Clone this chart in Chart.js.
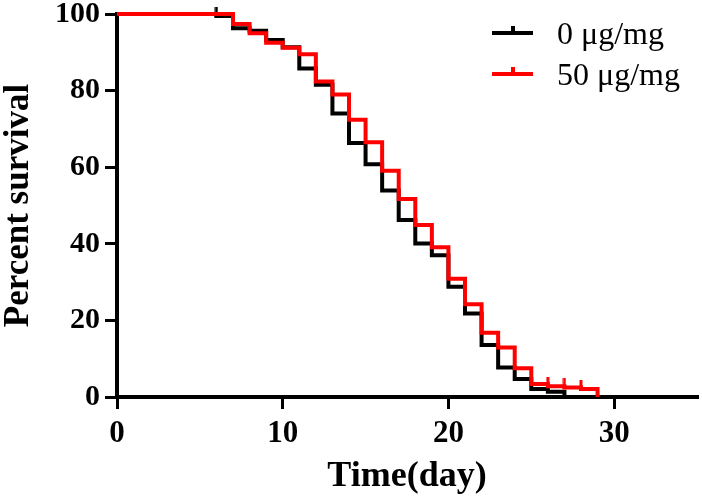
<!DOCTYPE html>
<html>
<head>
<meta charset="utf-8">
<script src="https://cdn.jsdelivr.net/npm/chart.js@4.4.0/dist/chart.umd.min.js"></script>
<style>
  html, body { margin: 0; padding: 0; background: #fff; }
  #wrap { width: 702px; height: 498px; }
</style>
</head>
<body>
<div id="wrap"><canvas id="survivalChart"></canvas></div>
<script>
// Kaplan-Meier steps (day, percent survival)
const days0 = [0, 6, 7, 8, 9, 10, 11, 12, 13, 14, 15, 16, 17, 18, 19, 20, 21, 22, 23, 24, 25, 26, 27];
const surv0 = [100, 99.5, 96.3, 95.6, 93.2, 91.3, 85.8, 81.5, 74, 66.3, 60.8, 53.9, 46.2, 40.1, 37, 28.8, 21.8, 13.6, 7.7, 4.7, 2.1, 1.4, 0];
const censor0 = [6];

const days50 = [0, 7, 8, 9, 10, 11, 12, 13, 14, 15, 16, 17, 18, 19, 20, 21, 22, 23, 24, 25, 26, 27, 28, 29];
const surv50 = [100, 97.4, 95, 92.5, 91.2, 89.5, 82.4, 79, 72.4, 66.5, 59.1, 51.7, 44.9, 39.1, 30.9, 24.2, 16.8, 12.9, 7.5, 3.4, 2.8, 2.5, 2.1, 0];
const censor50 = [26, 27, 28];

const seriesNames = ["0 μg/mg", "50 μg/mg"];
const seriesColors = ["#000000", "#ff0000"];

const xTicks = [0, 10, 20, 30];
const yTicks = [0, 20, 40, 60, 80, 100];

const serif = '"Liberation Serif", "Times New Roman", serif';

// small upward tick used for censored points
function tickMark(color) {
    const c = document.createElement("canvas");
    c.width = 4;
    c.height = 18;
    const g = c.getContext("2d");
    g.fillStyle = color;
    g.fillRect(0.5, 0, 3, 10);
    return c;
}

function toPoints(days, surv) {
    return days.map((d, i) => ({ x: d, y: surv[i] }));
}

function radii(days, censor) {
    return days.map(d => (censor.includes(d) ? 3 : 0));
}

// legend drawn inside the plot, top right
const legendPlugin = {
    id: "kmLegend",
    afterDraw(chart) {
        const ctx = chart.ctx;
        const rows = [36, 77];
        ctx.save();
        seriesNames.forEach((name, i) => {
            const y = rows[i] - 3;
            ctx.strokeStyle = seriesColors[i];
            ctx.lineWidth = 4;
            ctx.beginPath();
            ctx.moveTo(492, y);
            ctx.lineTo(533, y);
            ctx.moveTo(513, y);
            ctx.lineTo(513, y - 7);
            ctx.stroke();
            ctx.fillStyle = "#000";
            ctx.font = "32px " + serif;
            ctx.textBaseline = "middle";
            ctx.textAlign = "left";
            ctx.fillText(name, 557, rows[i]);
        });
        ctx.restore();
    }
};

const data = {
    datasets: [
        {
            label: seriesNames[1],
            data: toPoints(days50, surv50),
            borderColor: seriesColors[1],
            borderWidth: 4,
            stepped: true,
            pointStyle: tickMark(seriesColors[1]),
            pointRadius: radii(days50, censor50),
            order: 0,
            clip: false,
        },
        {
            label: seriesNames[0],
            data: toPoints(days0, surv0),
            borderColor: seriesColors[0],
            borderWidth: 4,
            stepped: true,
            pointStyle: tickMark(seriesColors[0]),
            pointRadius: radii(days0, censor0),
            order: 1,
            clip: false,
        },
    ],
};

const axisCommon = {
    border: { display: true, color: "#000", width: 4 },
    grid: {
        drawOnChartArea: false,
        color: "#000",
        lineWidth: 3,
        tickLength: 12,
        tickWidth: 3,
        tickColor: "#000",
    },
};

const config = {
    type: "line",
    data: data,
    options: {
        responsive: true,
        maintainAspectRatio: false,
        animation: false,
        layout: { padding: { top: 14, right: 5, left: 0, bottom: 0 } },
        plugins: {
            legend: { display: false },
            tooltip: { enabled: false },
        },
        scales: {
            x: {
                ...axisCommon,
                type: "linear",
                min: 0,
                max: 35,
                afterFit: s => { s.height = 101; s.paddingLeft = 0; s.paddingRight = 0; },
                afterBuildTicks: s => { s.ticks = xTicks.map(v => ({ value: v })); },
                ticks: {
                    color: "#000",
                    padding: 6,
                    font: { family: serif, size: 31, weight: "bold" },
                },
                title: {
                    display: true,
                    text: "Time(day)",
                    color: "#000",
                    padding: { top: 0, bottom: 0 },
                    font: { family: serif, size: 36, weight: "bold" },
                },
            },
            y: {
                ...axisCommon,
                min: 0,
                max: 100,
                afterFit: s => { s.width = 117; s.paddingTop = 0; s.paddingBottom = 0; },
                afterBuildTicks: s => { s.ticks = yTicks.map(v => ({ value: v })); },
                ticks: {
                    color: "#000",
                    padding: 5,
                    font: { family: serif, size: 30, weight: "bold" },
                },
                title: {
                    display: true,
                    text: "Percent survival",
                    color: "#000",
                    padding: { top: 0, bottom: 0 },
                    font: { family: serif, size: 35, weight: "bold", lineHeight: 1.1 },
                },
            },
        },
    },
    plugins: [legendPlugin],
};

const ctx = document.getElementById("survivalChart").getContext("2d");
const survivalChart = new Chart(ctx, config);
</script>
</body>
</html>
